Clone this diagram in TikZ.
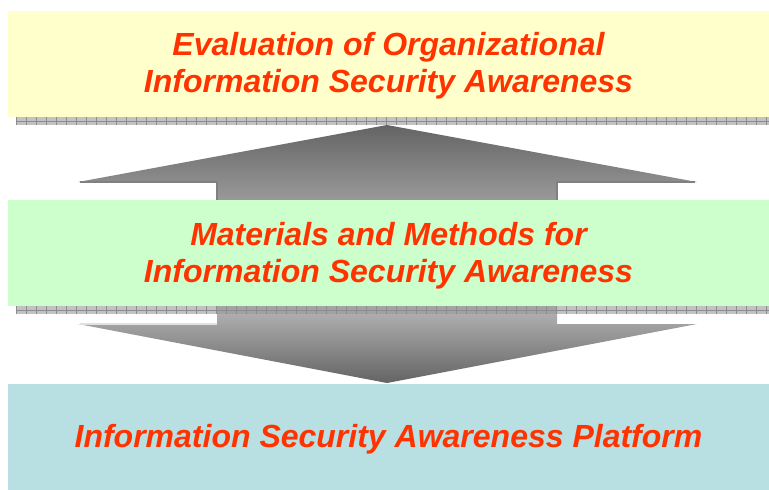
\documentclass[tikz,border=0pt]{standalone}
\usepackage{fontspec}
\setmainfont{Liberation Sans}
\definecolor{evalfill}{HTML}{FFFFCC}
\definecolor{methfill}{HTML}{CCFFCC}
\definecolor{platfill}{HTML}{B8E0E3}
\definecolor{titlered}{HTML}{FF3300}
\definecolor{arrowdark}{HTML}{646464}
\definecolor{arrowlight}{HTML}{C4C4C4}
\tikzset{
	layerbox/.style={minimum width=761pt, minimum height=106pt, inner sep=0pt},
	layertext/.style={align=center, inner sep=0pt, text=titlered,
		font=\fontsize{32}{37}\selectfont\bfseries\itshape},
	railfill/.style={fill=black!40, fill opacity=0.6}
}
\begin{document}
\begin{tikzpicture}[x=1pt,y=-1pt]
\useasboundingbox (0,0) rectangle (769,490);

% big arrows behind the layers
\shade[top color=arrowdark, bottom color=arrowlight] (387,125) -- (697,182) -- (557,182) -- (557,260) -- (217,260) -- (217,182) -- (78,182) -- cycle;
\draw[black!50, line width=1.2pt] (80,182) -- (217,182) -- (217,200);
\draw[black!50, line width=1.2pt] (695,182) -- (557,182) -- (557,200);
\shade[top color=arrowlight!85!arrowdark, bottom color=arrowdark] (217,306) -- (557,306) -- (557,324) -- (697,324) -- (387,383) -- (78,324) -- (217,324) -- cycle;
\draw[black!12, line width=1.2pt] (80,324) -- (217,324);

% the three layers
\node[layerbox, fill=evalfill] (eval) at (388.5,64) {};
\node[layerbox, fill=methfill] (meth) at (388.5,253) {};
\node[layerbox, fill=platfill] (plat) at (388.5,437) {};
\node[layertext] (evaltext) at ([yshift=-2pt]eval.center) {Evaluation of Organizational\\Information Security Awareness};
\node[layertext] (methtext) at ([yshift=-3pt]meth.center) {Materials and Methods for\\Information Security Awareness};
\node[layertext] (plattext) at ([yshift=-2pt]plat.center) {Information Security Awareness Platform};

% rails under the upper two layers
\foreach \y in {117,306}
{
	\fill[railfill] (16,\y) rectangle (769,\y+8);
	\draw[black!45, line width=0.6pt] (16,\y+4) -- (769,\y+4);
	\foreach \x in {16,26,...,766}
		\draw[black!45, line width=0.6pt] (\x,\y) -- (\x,\y+8);
}
\end{tikzpicture}
\end{document}
